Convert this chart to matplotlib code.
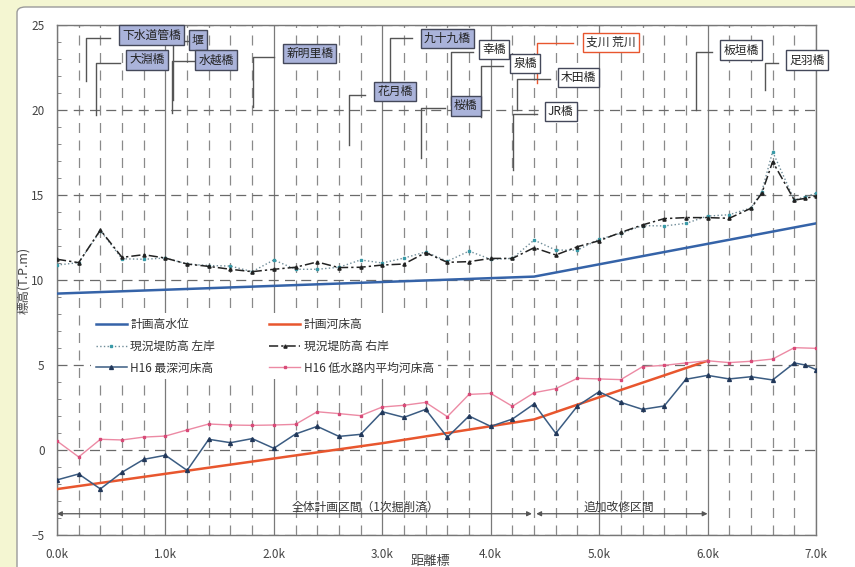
import numpy as np
import matplotlib
matplotlib.use('Agg')
import matplotlib.pyplot as plt
from matplotlib.patches import FancyBboxPatch
from matplotlib.ticker import MultipleLocator, FuncFormatter

plt.rcParams['font.family'] = ['Noto Sans CJK JP', 'DejaVu Sans']

# Distance markers (km)
km = [0.0, 0.2, 0.4, 0.6, 0.8, 1.0, 1.2, 1.4, 1.6, 1.8, 2.0, 2.2, 2.4, 2.6,
      2.8, 3.0, 3.2, 3.4, 3.6, 3.8, 4.0, 4.2, 4.4, 4.6, 4.8, 5.0, 5.2, 5.4,
      5.6, 5.8, 6.0, 6.2, 6.4, 6.6, 6.8, 7.0]

# Planned high water level and planned bed level
hwl_km = [0.0, 4.4, 7.0]
hwl = [9.2, 10.2, 13.33]
plan_bed_km = [0.0, 2.0, 3.0, 4.4, 5.0, 6.0]
plan_bed = [-2.3, -0.5, 0.4, 1.8, 3.1, 5.25]

# Existing levee crown (left / right bank)
levee_km = [0.0, 0.2, 0.4, 0.6, 0.8, 1.0, 1.2, 1.4, 1.6, 1.8, 2.0, 2.2, 2.4,
            2.6, 2.8, 3.0, 3.2, 3.4, 3.6, 3.8, 4.0, 4.2, 4.4, 4.6, 4.8, 5.0,
            5.2, 5.4, 5.6, 5.8, 6.0, 6.2, 6.4, 6.5, 6.6, 6.8, 6.9, 7.0]
levee_left = [10.88, 11.02, 12.9, 11.25, 11.22, 11.29, 10.94, 10.85, 10.82,
              10.49, 11.18, 10.63, 10.63, 10.75, 11.18, 11.0, 11.29, 11.65,
              11.1, 11.7, 11.22, 11.27, 12.35, 11.76, 11.76, 12.4, 12.75,
              13.2, 13.18, 13.33, 13.76, 13.84, 14.24, 15.2, 17.55, 14.7,
              14.9, 15.1]
levee_right = [11.22, 11.02, 12.94, 11.33, 11.49, 11.29, 10.94, 10.8, 10.63,
               10.49, 10.63, 10.75, 11.06, 10.73, 10.75, 10.88, 10.94, 11.61,
               11.04, 11.08, 11.27, 11.27, 11.9, 11.47, 11.96, 12.31, 12.8,
               13.24, 13.61, 13.67, 13.67, 13.63, 14.22, 15.1, 16.96, 14.7,
               14.8, 14.94]

# H16 survey: deepest bed and mean low-water channel bed
deep_km = [0.0, 0.2, 0.4, 0.6, 0.8, 1.0, 1.2, 1.4, 1.6, 1.8, 2.0, 2.2, 2.4,
           2.6, 2.8, 3.0, 3.2, 3.4, 3.6, 3.8, 4.0, 4.2, 4.4, 4.6, 4.8, 5.0,
           5.2, 5.4, 5.6, 5.8, 6.0, 6.2, 6.4, 6.6, 6.8, 6.9, 7.0]
deep_bed = [-1.76, -1.41, -2.29, -1.31, -0.55, -0.31, -1.2, 0.63, 0.43, 0.67,
            0.1, 0.94, 1.39, 0.8, 0.92, 2.25, 1.92, 2.39, 0.75, 2.0, 1.39,
            1.82, 2.71, 0.98, 2.59, 3.43, 2.8, 2.39, 2.59, 4.16, 4.39, 4.18,
            4.31, 4.12, 5.12, 5.0, 4.73]
mean_bed = [0.53, -0.41, 0.63, 0.59, 0.76, 0.82, 1.18, 1.53, 1.47, 1.45, 1.47,
            1.51, 2.25, 2.14, 2.02, 2.53, 2.63, 2.8, 1.96, 3.27, 3.33, 2.57,
            3.37, 3.61, 4.22, 4.18, 4.14, 4.9, 4.98, 5.12, 5.25, 5.14, 5.22,
            5.35, 6.02, 5.98]

series_names = ['計画高水位', '計画河床高', '現況堤防高 左岸', '現況堤防高 右岸',
                'H16 最深河床高', 'H16 低水路内平均河床高']

# Bridge / structure names along the reach
bridges = ['下水道管橋', '堰', '大淵橋', '水越橋', '新明里橋', '花月橋', '九十九橋',
           '桜橋', '幸橋', '泉橋', '支川 荒川', '木田橋', 'JR橋', '板垣橋', '足羽橋']
# label centre (x, y), leader corner (x, y, x of horizontal end), leader bottom y
bridge_box = [(0.87, 24.4), (1.30, 24.1), (0.83, 22.95), (1.47, 22.95),
              (2.33, 23.32), (3.12, 21.09), (3.60, 24.2), (3.77, 20.24),
              (4.03, 23.56), (4.32, 22.74), (5.11, 23.97), (4.81, 21.91),
              (4.645, 19.91), (6.31, 23.53), (6.92, 22.94)]
leader_top = [(0.27, 24.25, 0.49), (1.07, 24.05, 1.21), (0.36, 22.78, 0.58),
              (1.06, 22.9, 1.27), (1.81, 23.12, 2.0), (2.69, 20.88, 2.84),
              (3.07, 24.25, 3.27), (3.355, 20.1, 3.58), (3.63, 23.39, 3.84),
              (3.91, 22.6, 4.11), (4.43, 23.92, 4.76), (4.24, 21.8, 4.55),
              (4.21, 19.75, 4.43), (5.895, 23.43, 6.04), (6.53, 22.75, 6.65)]
leader_bottom = [21.7, 20.6, 19.7, 19.8, 20.18, 17.94, 20.6, 17.18, 20.3,
                 19.6, 21.57, 20.0, 16.47, 20.0, 21.18]
box_style = ['blue'] * 8 + ['white', 'white', 'red', 'white', 'white',
                            'white', 'white']

fig = plt.figure(figsize=(8.55, 5.67), dpi=100)
fig.patch.set_facecolor('#f4f6d2')
panel = FancyBboxPatch((17 / 855, -0.05), 1.0, 1 - 7 / 567 + 0.05,
                       boxstyle='round,pad=0,rounding_size=0.01',
                       transform=fig.transFigure, facecolor='white',
                       edgecolor='#9a9a9a', linewidth=1.0, zorder=-10)
fig.patches.append(panel)

ax = fig.add_axes([57 / 855, 1 - 535 / 567, 759 / 855, 510 / 567])
ax.set_facecolor('white')
ax.set_xlim(0, 7)
ax.set_ylim(-5, 25)

# grid: solid at each km, dashed at 0.2 km, dashed every 5 m
ax.xaxis.set_major_locator(MultipleLocator(1.0))
ax.xaxis.set_minor_locator(MultipleLocator(0.2))
ax.yaxis.set_major_locator(MultipleLocator(5))
ax.yaxis.set_minor_locator(MultipleLocator(1))
ax.xaxis.grid(True, which='major', color='#7a7a7a', lw=0.9, ls='-')
ax.xaxis.grid(True, which='minor', color='#8a8a8a', lw=0.9, ls=(0, (8, 6)))
ax.yaxis.grid(True, which='major', color='#6a6a6a', lw=0.9, ls=(0, (8, 5)))
ax.set_axisbelow(True)
ax.xaxis.set_major_formatter(FuncFormatter(lambda v, p: f'{v:.1f}k'))
ax.tick_params(axis='x', which='both', length=0, pad=9, labelsize=8.5,
               labelcolor='#444444')
ax.tick_params(axis='y', which='major', direction='in', length=0, pad=9,
               labelsize=8.5, labelcolor='#444444')
ax.tick_params(axis='y', which='minor', direction='in', length=3,
               color='#777777')
for s in ax.spines.values():
    s.set_color('#777777')
    s.set_linewidth(1.0)

ax.set_xlabel('距離標', fontsize=9.5, color='#444444')
ax.xaxis.set_label_coords(0.492, -0.04)
ax.set_ylabel('標高(T.P.m)', fontsize=9, color='#444444')
ax.yaxis.set_label_coords(-0.036, 0.5)

l1, = ax.plot(hwl_km, hwl, color='#3563a8', lw=1.8, zorder=4)
l2, = ax.plot(plan_bed_km, plan_bed, color='#e8562e', lw=1.8, zorder=4)
l3, = ax.plot(levee_km, levee_left, color='#6f8c98', lw=1.0, ls=':',
              marker='s', ms=2.0, mfc='#3a9aa8', mec='#3a9aa8', zorder=5)
l4, = ax.plot(levee_km, levee_right, color='#222222', lw=1.1,
              ls=(0, (6, 2, 1.5, 2)), marker='^', ms=2.3, zorder=5)
l5, = ax.plot(deep_km, deep_bed, color='#3b5c82', lw=1.1, marker='^',
              ms=2.8, mfc='#22385a', mec='#22385a', zorder=5)
l6, = ax.plot(km, mean_bed, color='#ec8aa4', lw=1.0, marker='s', ms=2.0,
              mfc='#d84a78', mec='#d84a78', zorder=5)

# legend filled row by row (two columns)
handles = [l1, l2, l3, l4, l5, l6]
order = [0, 2, 4, 1, 3, 5]
leg = ax.legend([handles[i] for i in order],
                [series_names[i] for i in order], ncol=2,
                loc='upper left', bbox_to_anchor=(0.045, 0.435),
                fontsize=8.5, frameon=True, handlelength=2.6,
                handletextpad=0.3, columnspacing=4.6, labelspacing=0.75,
                borderpad=0.4, borderaxespad=0)
leg.get_frame().set_facecolor('white')
leg.get_frame().set_edgecolor('none')
leg.get_frame().set_alpha(1)
leg.set_zorder(3)
for t in leg.get_texts():
    t.set_color('#333333')

# bridge labels with elbow leaders
for name, (bx, by), (lx, ly, lx2), yb, st in zip(bridges, bridge_box,
                                                  leader_top, leader_bottom,
                                                  box_style):
    lc = '#e8562e' if st == 'red' else '#555555'
    ax.plot([lx2, lx, lx], [ly, ly, yb], color=lc, lw=1.0, zorder=6,
            clip_on=False)
    if st == 'blue':
        fc, ec = '#aab3da', '#44485a'
    elif st == 'red':
        fc, ec = 'white', '#e8562e'
    else:
        fc, ec = 'white', '#44485a'
    ax.text(bx, by, name, fontsize=8.5, ha='center', va='center',
            color='#222222', zorder=7, clip_on=False,
            bbox=dict(boxstyle='square,pad=0.28', fc=fc, ec=ec, lw=1.0))

# section arrows
ax.annotate('', xy=(0.0, -3.75), xytext=(4.38, -3.75),
            arrowprops=dict(arrowstyle='<|-|>', color='#555555', lw=0.9,
                            mutation_scale=7, shrinkA=0, shrinkB=0))
ax.annotate('', xy=(4.42, -3.75), xytext=(6.0, -3.75),
            arrowprops=dict(arrowstyle='<|-|>', color='#555555', lw=0.9,
                            mutation_scale=7, shrinkA=0, shrinkB=0))
ax.text(2.84, -3.38, '全体計画区間（1次掘削済）', fontsize=8.5, ha='center',
        va='center', color='#333333', zorder=6)
ax.text(5.18, -3.38, '追加改修区間', fontsize=8.5, ha='center', va='center',
        color='#333333', zorder=6)

fig.savefig('out.png', dpi=100, facecolor=fig.get_facecolor())
